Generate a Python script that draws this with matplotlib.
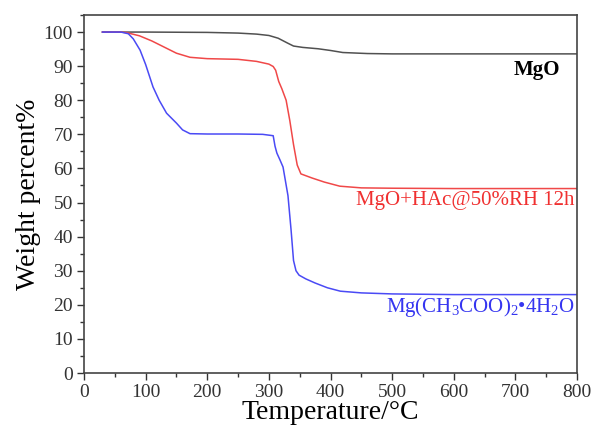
import matplotlib.pyplot as plt
from matplotlib.ticker import MultipleLocator

# MgO
temp_mgo = [30, 100, 200, 250, 280, 300, 315, 330, 340, 355, 380, 400, 420, 460, 500, 600, 700, 800]
wt_mgo = [100, 100, 99.9, 99.7, 99.4, 99.0, 98.2, 96.8, 95.9, 95.5, 95.1, 94.6, 94.0, 93.7, 93.6, 93.6, 93.6, 93.6]

# MgO+HAc@50%RH 12h
temp_hac = [30, 60, 70, 90, 110, 130, 150, 172, 200, 250, 280, 300, 307, 311, 316, 321, 328, 334, 340, 346, 352, 370, 390, 415, 450, 500, 600, 700, 800]
wt_hac = [100, 100, 99.8, 98.9, 97.4, 95.6, 93.8, 92.6, 92.2, 92.0, 91.4, 90.6, 89.9, 88.8, 85.5, 83.4, 80.0, 74, 67, 61.0, 58.4, 57.2, 56.0, 54.8, 54.3, 54.2, 54.1, 54.1, 54.1]

# Mg(CH3COO)2*4H2O
temp_ac = [30, 60, 72, 80, 91, 100, 112, 122, 134, 150, 160, 172, 200, 250, 290, 307, 310, 313, 318, 323, 331, 336, 340, 344, 349, 360, 375, 395, 416, 450, 500, 600, 700, 800]
wt_ac = [100, 100, 99.5, 98.0, 94.7, 90.5, 83.9, 80.0, 76.2, 73.3, 71.3, 70.2, 70.1, 70.1, 70.0, 69.6, 66.5, 64.5, 62.5, 60.4, 52, 42, 33, 30.0, 28.7, 27.6, 26.4, 25.0, 24.0, 23.5, 23.2, 23.0, 23.0, 23.0]

plt.rcParams['font.family'] = ['Liberation Serif', 'DejaVu Serif']
plt.rcParams['mathtext.fontset'] = 'custom'
plt.rcParams['mathtext.rm'] = 'Liberation Serif'
plt.rcParams['mathtext.it'] = 'Liberation Serif'
plt.rcParams['mathtext.bf'] = 'Liberation Serif:bold'

fig = plt.figure(figsize=(5.94, 4.29), dpi=100)
ax = fig.add_axes([0.1414, 0.1305, 0.83, 0.8345])

ax.plot(temp_mgo, wt_mgo, color='#505050', lw=1.1)
ax.plot(temp_hac, wt_hac, color='#f04848', lw=1.1)
ax.plot(temp_ac, wt_ac, color='#4a4af5', lw=1.1)

ax.text(772, 89, 'MgO', color='black', fontsize=15, fontweight='bold', ha='right', va='center')
ax.text(796, 50.7, 'MgO+HAc@50%RH 12h', color='#f03030', fontsize=15, ha='right', va='center')
ax.text(796, 19.5, r'Mg(CH$_3$COO)$_2$•4H$_2$O', color='#3535f0', fontsize=15, ha='right', va='center')

ax.set_xlim(0, 800)
ax.set_ylim(0, 105)
ax.xaxis.set_major_locator(MultipleLocator(100))
ax.xaxis.set_minor_locator(MultipleLocator(50))
ax.yaxis.set_major_locator(MultipleLocator(10))
ax.yaxis.set_minor_locator(MultipleLocator(5))
ax.tick_params(which='major', direction='out', length=5, width=1, labelsize=14, colors='#333333', pad=3)
ax.tick_params(which='minor', direction='out', length=3, width=1, colors='#333333')
for s in ax.spines.values():
    s.set_color('#444444')
    s.set_linewidth(1.2)

ax.set_xlabel('Temperature/°C', fontsize=20, labelpad=-1)
ax.set_ylabel('Weight percent%', fontsize=20, labelpad=2)

fig.savefig('out.png', dpi=100)
